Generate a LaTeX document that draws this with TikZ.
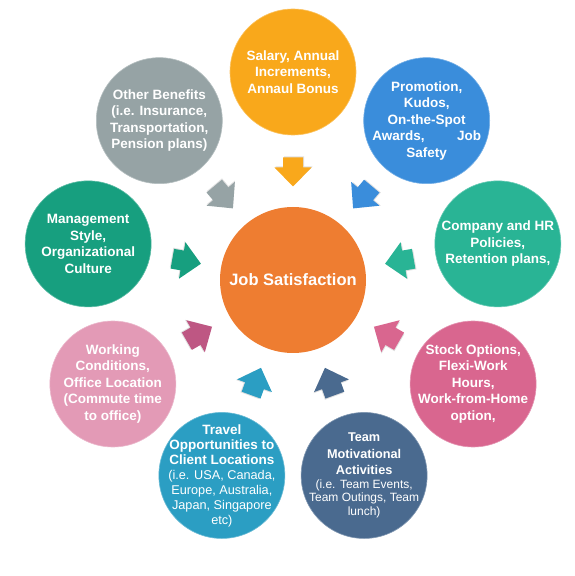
\documentclass[tikz,border=0pt]{standalone}
\usepackage{fontspec}
\setmainfont{Liberation Sans}
\usetikzlibrary{calc}

\definecolor{hubC}{HTML}{EE7D31}
\definecolor{salC}{HTML}{F9A81B}
\definecolor{proC}{HTML}{3A8DDB}
\definecolor{comC}{HTML}{29B495}
\definecolor{stoC}{HTML}{D9668F}
\definecolor{teaC}{HTML}{4A6A8F}
\definecolor{traC}{HTML}{2B9EC3}
\definecolor{worC}{HTML}{E39AB6}
\definecolor{worA}{HTML}{BE5783}
\definecolor{manC}{HTML}{179F7F}
\definecolor{othC}{HTML}{96A3A5}

\newcommand{\thin}{\mdseries\fontsize{12}{14}\selectfont}

\tikzset{
  bubble/.style={circle,fill=#1,draw=#1!70!white,line width=0.6pt,inner sep=0pt,
    minimum size=126pt},
  blurb/.style={text=white,font=\bfseries\fontsize{13.5}{16.5}\selectfont,
    align=center,inner sep=0pt},
  hub/.style={circle,fill=hubC,text=white,font=\bfseries\fontsize{16.5}{19}\selectfont,
    inner sep=0pt,minimum size=146pt}
}

\begin{document}
\begin{tikzpicture}[x=1pt,y=1pt]
  \useasboundingbox (0,0) rectangle (574,576);
  \node[hub] (hub) at (293,296) {Job Satisfaction};
  % outer factors, with their arrows pointing in
  \foreach \ang/\col/\arr/\nm/\txt in {
      90/salC/salC/sal/{Salary, Annual\\Increments,\\Annaul Bonus},
      50/proC/proC/pro/{Promotion,\\Kudos,\\On-the-Spot\\Awards,\hspace{2.4em}Job\\Safety},
      10/comC/comC/com/{Company and HR\\Policies,\\Retention plans,},
      -30/stoC/stoC/sto/{Stock Options,\\Flexi-Work\\Hours,\\Work-from-Home\\option,},
      -70/teaC/teaC/tea/{{\fontsize{12.7}{16}\selectfont Team}\\
        {\fontsize{12.7}{16}\selectfont Motivational}\\
        {\fontsize{12.7}{16}\selectfont Activities}\\[-3pt]
        {\thin(i.e. Team Events,}\\[-3pt]{\thin Team Outings, Team}\\[-3pt]{\thin lunch)}},
      -110/traC/traC/tra/{Travel\\[-1.5pt]Opportunities to\\[-1.5pt]Client Locations\\[-1.5pt]
        {\thin\fontsize{12.7}{14}\selectfont(i.e. USA, Canada,}\\[-1.5pt]
        {\thin\fontsize{12.7}{14}\selectfont Europe, Australia,}\\[-1.5pt]
        {\thin\fontsize{12.7}{14}\selectfont Japan, Singapore}\\[-1.5pt]
        {\thin\fontsize{12.7}{14}\selectfont etc)}},
      -150/worC/worA/wor/{Working\\Conditions,\\Office Location\\(Commute time\\to office)},
      170/manC/manC/man/{Management\\Style,\\Organizational\\Culture},
      130/othC/othC/oth/{Other Benefits\\(i.e. Insurance,\\Transportation,\\Pension plans)}}
  {
    \node[bubble=\col] (\nm) at ($(hub)+(\ang:208)$) {};
    \node[blurb] (\nm-t) at (\nm) {\txt};
    \begin{scope}[shift={($(hub)+(\ang:108)$)},rotate=\ang]
      \fill[black!12] (-13.5,-1) -- (5.5,17.5) -- (5.5,9) -- (15.5,9) -- (15.5,-11)
        -- (5.5,-11) -- (5.5,-19.5) -- cycle;
      \fill[\arr] (-14.5,0) -- (4.5,18.5) -- (4.5,10) -- (14.5,10) -- (14.5,-10)
        -- (4.5,-10) -- (4.5,-18.5) -- cycle;
    \end{scope}
  }
\end{tikzpicture}
\end{document}
